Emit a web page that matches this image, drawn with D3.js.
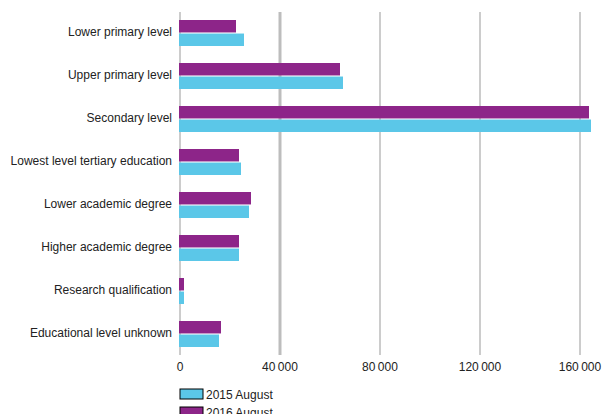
<!DOCTYPE html>
<html lang="en">
<head>
  <meta charset="UTF-8">
  <title>Education levels</title>
  <script src="https://d3js.org/d3.v7.min.js"></script>
  <style>
    body {
      margin: 0;
      background: white;
      font-family: "Liberation Sans", Arial, sans-serif;
    }
    .cat, .tick-label, .legend-label {
      font-size: 12px;
      fill: #222;
    }
  </style>
</head>
<body>
  <svg width="603" height="414"></svg>
  <script>
    const categories = [
      "Lower primary level",
      "Upper primary level",
      "Secondary level",
      "Lowest level tertiary education",
      "Lower academic degree",
      "Higher academic degree",
      "Research qualification",
      "Educational level unknown"
    ];
    const seriesNames = ["2015 August", "2016 August"];
    const values2015 = [25600, 65200, 164400, 24400, 27600, 23600, 1600, 15600];
    const values2016 = [22400, 64000, 163600, 23600, 28400, 23600, 1600, 16400];
    const tickValues = [0, 40000, 80000, 120000, 160000];
    const colors = { "2015 August": "#5bc7e8", "2016 August": "#8d2589" };

    const svg = d3.select("svg");

    // x: 0 sits at 180, 160 000 at 580
    const x = d3.scaleLinear().domain([0, 160000]).range([180, 580]);
    const y = d3.scaleBand().domain(categories).range([12, 356]);
    // purple on top, cyan below
    const inner = d3.scaleBand().domain(["2016 August", "2015 August"]).range([8, 34]).paddingInner(0.08);

    // grid lines
    svg.append("g").selectAll("line")
      .data(tickValues)
      .enter()
      .append("line")
      .attr("x1", d => x(d))
      .attr("x2", d => x(d))
      .attr("y1", 12)
      .attr("y2", 355)
      .attr("stroke", d => d === 40000 ? "#bdbdbd" : "#cccccc")
      .attr("stroke-width", d => d === 40000 ? 3 : 2);

    // tick labels
    const fmt = d => d3.format(",")(d).replace(/,/g, "\u2009");
    svg.append("g").selectAll("text")
      .data(tickValues)
      .enter()
      .append("text")
      .attr("class", "tick-label")
      .attr("x", d => x(d))
      .attr("y", 371)
      .attr("text-anchor", "middle")
      .text(fmt);

    // bars
    const rows = categories.map((c, i) => ({
      cat: c,
      vals: [
        { name: "2016 August", value: values2016[i] },
        { name: "2015 August", value: values2015[i] }
      ]
    }));

    const groups = svg.append("g").selectAll("g")
      .data(rows)
      .enter()
      .append("g")
      .attr("transform", d => `translate(0,${y(d.cat)})`);

    groups.selectAll("rect")
      .data(d => d.vals)
      .enter()
      .append("rect")
      .attr("x", x(0) - 1)
      .attr("y", d => inner(d.name))
      .attr("width", d => x(d.value) - x(0) + 1)
      .attr("height", inner.bandwidth())
      .attr("fill", d => colors[d.name]);

    // category labels
    svg.append("g").selectAll("text")
      .data(categories)
      .enter()
      .append("text")
      .attr("class", "cat")
      .attr("x", 172)
      .attr("y", d => y(d) + 24)
      .attr("text-anchor", "end")
      .text(d => d);

    // legend
    const legend = svg.append("g").selectAll("g")
      .data(seriesNames)
      .enter()
      .append("g")
      .attr("transform", (d, i) => `translate(180,${389 + i * 18})`);

    legend.append("rect")
      .attr("width", 23)
      .attr("height", 10)
      .attr("fill", d => colors[d])
      .attr("stroke", "#000")
      .attr("stroke-width", 1);

    legend.append("text")
      .attr("class", "legend-label")
      .attr("x", 26)
      .attr("y", 10)
      .text(d => d);
  </script>
</body>
</html>
